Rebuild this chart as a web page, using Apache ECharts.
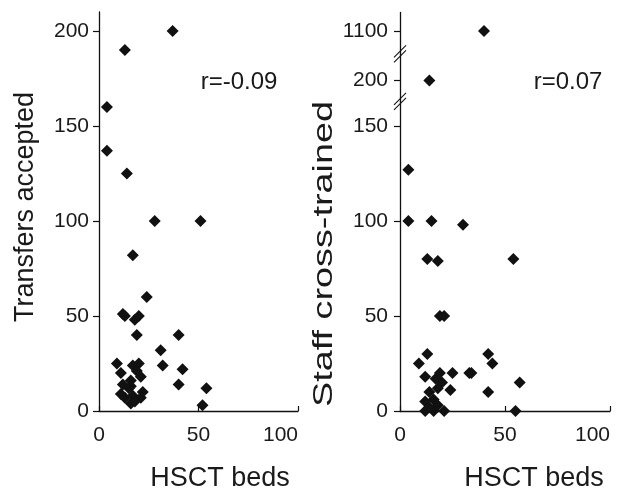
<!DOCTYPE html>
<html><head><meta charset="utf-8">
<script src="https://cdn.jsdelivr.net/npm/echarts@6/dist/echarts.min.js"></script>
<style>html,body{margin:0;padding:0;background:#fff}#c{width:627px;height:491px}</style>
</head><body><div id="c"></div>
<script>
// Left panel: HSCT beds vs transfers accepted
const bedsA = [37,13,4,4,14,28,51,17,24,12,13,18,20,19,40,31,9,20,32,42,11,17,19,21,16,12,16,22,11,13,16,21,17,40,54,52,15,18];
const transfers = [200,190,160,137,125,100,100,82,60,51,50,48,50,40,40,32,25,25,24,22,20,24,21,18,16,14,13,10,9,7,4,7,8,14,12,3,12,5];
// Right panel: HSCT beds vs staff cross-trained
const bedsB = [40,14,4,4,15,30,13,18,54,19,21,13,9,42,44,12,19,25,33,34,57,20,17,24,14,42,12,16,18,12,16,21,55,18,14];
const staff = [1100,200,127,100,100,98,80,79,80,50,50,30,25,30,25,18,20,20,20,20,15,15,17,11,10,10,5,6,12,0,0,0,0,3,2];
const xTicks = [0,50,100];
const yTicksA = [0,50,100,150,200];
const yTicksB = [0,50,100,150,200,1100];
const breaksB = [[163,189],[214,1088]];
const corrA = 'r=-0.09', corrB = 'r=0.07';
const xTitle = 'HSCT beds', yTitleA = 'Transfers accepted', yTitleB = 'Staff cross-trained';

const FONT = '"Liberation Sans", Arial, Helvetica, sans-serif';
const TXT = '#1a1a1a';
const chart = echarts.init(document.getElementById('c'), null, {renderer:'canvas'});
const axisLine = {show:true, onZero:false, lineStyle:{color:'#111', width:1.3}};
const fmt = v => String(v);
function xAxis(gi){
  return {type:'value', gridIndex:gi, min:0, max:100, interval:50,
    axisLine, splitLine:{show:false},
    axisTick:{show:true, inside:true, length:5, lineStyle:{color:'#111', width:1.2}, customValues:xTicks},
    axisLabel:{color:TXT, fontSize:21, fontFamily:FONT, margin:14, customValues:xTicks, alignMaxLabel:'right', formatter:fmt}};
}
function yAxis(gi, max, ticks, margin){
  return {type:'value', gridIndex:gi, min:0, max:max,
    axisLine, splitLine:{show:false},
    axisTick:{show:true, length:6, lineStyle:{color:'#111', width:1.2}, customValues:ticks},
    axisLabel:{color:TXT, fontSize:21, fontFamily:FONT, margin:margin, customValues:ticks, formatter:fmt}};
}
const yB = yAxis(1, 1110, yTicksB, 12);
yB.breaks = breaksB.map(b => ({start:b[0], end:b[1], gap:0, isExpanded:false}));
yB.breakArea = {show:false, expandOnClick:false};

const sym = {type:'scatter', symbol:'diamond', symbolSize:12, itemStyle:{color:'#111', opacity:1}, silent:true, animation:false};
chart.setOption({
  animation:false,
  backgroundColor:'#fff',
  grid:[{left:99, top:12, width:199, height:399}, {left:400, top:12, width:210, height:399}],
  xAxis:[xAxis(0), xAxis(1)],
  yAxis:[yAxis(0, 210, yTicksA, 10), yB],
  series:[
    Object.assign({xAxisIndex:0, yAxisIndex:0, data:bedsA.map((b,i)=>[b, transfers[i]])}, sym),
    Object.assign({xAxisIndex:1, yAxisIndex:1, data:bedsB.map((b,i)=>[b, staff[i]])}, sym)
  ]
});

const textStyle = (t, size) => ({text:t, fill:TXT, font:size+'px '+FONT, textAlign:'center', textVerticalAlign:'middle'});
const g = [
  {type:'text', x:220, y:479, style:textStyle(xTitle, 27)},
  {type:'text', x:534, y:479, style:textStyle(xTitle, 27)},
  {type:'text', x:26, y:207, rotation:Math.PI/2, style:textStyle(yTitleA, 27)},
  {type:'text', x:325, y:254, rotation:Math.PI/2, scaleX:1.4, style:textStyle(yTitleB, 27)},
  {type:'text', x:239, y:82, style:textStyle(corrA, 24)},
  {type:'text', x:568, y:82, style:textStyle(corrB, 24)}
];
// break marks on the right y axis
breaksB.forEach(b => {
  const p = chart.convertToPixel({xAxisIndex:1, yAxisIndex:1}, [0, b[0]]);
  if (!p) return;
  [-2.5, 2.5].forEach(d => {
    g.push({type:'line', shape:{x1:p[0]-6, y1:p[1]+6+d, x2:p[0]+6, y2:p[1]-6+d}, style:{stroke:'#111', lineWidth:1.1}});
  });
});
chart.setOption({graphic:g});
</script></body></html>
